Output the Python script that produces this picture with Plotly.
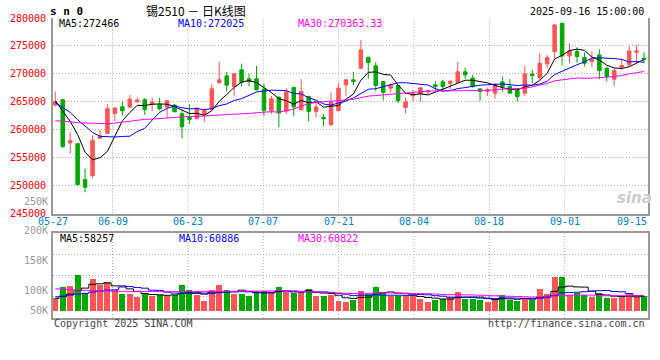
import plotly.graph_objects as go

# ---------------- data ----------------
DATES = ["05-27", "05-28", "05-29", "05-30",
         "06-03", "06-04", "06-05", "06-06", "06-09", "06-10", "06-11", "06-12", "06-13",
         "06-16", "06-17", "06-18", "06-19", "06-20", "06-23", "06-24", "06-25", "06-26",
         "06-27", "06-30",
         "07-01", "07-02", "07-03", "07-04", "07-07", "07-08", "07-09", "07-10", "07-11",
         "07-14", "07-15", "07-16", "07-17", "07-18", "07-21", "07-22", "07-23", "07-24",
         "07-25", "07-28", "07-29", "07-30", "07-31",
         "08-01", "08-04", "08-05", "08-06", "08-07", "08-08", "08-11", "08-12", "08-13",
         "08-14", "08-15", "08-18", "08-19", "08-20", "08-21", "08-22", "08-25", "08-26",
         "08-27", "08-28", "08-29",
         "09-01", "09-02", "09-03", "09-04", "09-05", "09-08", "09-09", "09-10", "09-11",
         "09-12", "09-15", "09-16"]

OPEN = [264410, 265360, 257620, 257500, 251070, 251790, 258450, 259350, 262920, 264110,
        264050, 265000, 265360, 264580, 264470, 264050, 264410, 262860, 262260, 262030,
        262680, 263690, 268450, 269640, 267740, 270720, 269110, 269110, 267260, 263390,
        265830, 263330, 267560, 263570, 265950, 263280, 262200, 260890, 263450, 268040,
        268930, 271010, 272980, 271430, 268630, 267440, 267920, 263990, 266070, 266430,
        266790, 268040, 268570, 268330, 268450, 270360, 269230, 267320, 266850, 266550,
        268570, 267740, 266970, 266550, 269940, 269350, 271790, 273990, 279050, 273220,
        273990, 272920, 272200, 273390, 271010, 269050, 271190, 271610, 273870, 272800]
HIGH = [266850, 265540, 259640, 257560, 253040, 258990, 259940, 264530, 264050, 265060,
        266250, 265780, 265660, 265780, 265720, 265240, 264580, 263450, 264580, 264050,
        263870, 268210, 272140, 270360, 270120, 271850, 270000, 271430, 268210, 266070,
        265950, 267440, 267740, 269050, 266070, 264880, 262800, 266670, 268330, 269050,
        270360, 276070, 273050, 272140, 268700, 268330, 268040, 265780, 267140, 267560,
        267140, 268750, 268930, 268930, 272140, 271130, 269820, 267440, 267560, 268330,
        269520, 269050, 267320, 271430, 270720, 273690, 273390, 278930, 279170, 275480,
        274760, 273870, 273990, 274410, 271310, 271010, 272800, 275000, 275180, 273870]
LOW = [264170, 256790, 255720, 249940, 248810, 251370, 258340, 259230, 261490, 262500,
       263870, 264820, 262680, 263280, 263450, 262090, 263100, 258450, 261010, 261790,
       261370, 263570, 268160, 266850, 266070, 267740, 267740, 267030, 262500, 262800,
       260420, 262860, 262380, 263450, 261490, 262200, 260600, 260720, 263280, 265950,
       267920, 270900, 269110, 266850, 265240, 266670, 264760, 262920, 265060, 265060,
       266250, 266850, 266850, 267140, 268330, 269050, 267500, 265180, 266070, 265480,
       266850, 266430, 265060, 266070, 268330, 268930, 271010, 272800, 271490, 271910,
       272020, 271310, 271310, 269050, 268630, 267860, 270720, 271310, 271910, 271910]
CLOSE = [265000, 256970, 258040, 250180, 249700, 258100, 258930, 263750, 263870, 263390,
         265480, 265300, 263630, 264940, 263750, 265180, 263220, 260540, 261850, 263870,
         263450, 267320, 268930, 267980, 270000, 268450, 268630, 267140, 263450, 265540,
         262980, 266790, 264050, 266850, 263280, 264050, 261970, 264940, 267440, 268930,
         268630, 274290, 272020, 267920, 266670, 268040, 265180, 265000, 266430, 267500,
         266970, 267740, 267740, 268630, 270360, 269820, 267740, 266850, 267140, 268160,
         267740, 266550, 265950, 270000, 269700, 271910, 272920, 278750, 273220, 274110,
         273100, 271910, 272620, 270600, 269520, 270600, 271490, 274110, 274110, 272620]
VOLUME = [50000, 93000, 97000, 141000, 69000, 128000, 101000, 116000, 81000, 68000,
          68000, 53000, 72000, 60000, 63000, 57000, 62000, 104000, 81000, 62000,
          40000, 84000, 104000, 84000, 68000, 68000, 57000, 80000, 80000, 70000,
          93000, 74000, 71000, 76000, 87000, 57000, 60000, 63000, 40000, 36000,
          44000, 80000, 68000, 96000, 71000, 57000, 57000, 64000, 57000, 47000,
          36000, 44000, 47000, 55000, 76000, 47000, 47000, 44000, 36000, 46000,
          64000, 44000, 37000, 48000, 44000, 88000, 68000, 136000, 136000, 62000,
          72000, 64000, 56000, 71000, 49000, 49000, 56000, 66000, 56000, 60000]

# moving-average values before enough in-window history exists
MA5_EARLY = [265180, 263280, 261490, 259130]
MA10_EARLY = [264880, 264050, 263100, 261790, 260600, 259525, 258810, 258690, 258690]
MA30_EARLY = [261610, 261550, 261430, 261250, 261190, 261130, 261070, 261070, 261190,
              261370, 261610, 261790, 261850, 261910, 262030, 262150, 262200, 262320,
              262380, 262380, 262440, 262500, 262560, 262620, 262740, 262800, 262920,
              263040, 263160]
VMA5_EARLY = [49000, 56000, 66000, 80000]
VMA10_EARLY = [55000, 58000, 62000, 66000, 69000, 74000, 78000, 82000, 83000]
VMA30_EARLY = [87000, 86000, 84000, 82000, 81000, 80000, 79000, 78000, 77000, 77000,
               76000, 76000, 76000, 76000, 76000, 76000, 76000, 76000, 76000, 76000,
               77000, 77000, 77000, 77000, 77000, 78000, 78000, 78000, 78000]

PRICE_TICKS = [245000, 250000, 255000, 260000, 265000, 270000, 275000, 280000]
VOL_LABELS = ["250K", "200K", "150K", "100K", "50K"]
DATE_LABELS = ["05-27", "06-09", "06-23", "07-07", "07-21", "08-04", "08-18", "09-01", "09-15"]
PRICE_MA_TEXT = ["MA5:272466", "MA10:272025", "MA30:270363.33"]
VOL_MA_TEXT = ["MA5:58257", "MA10:60886", "MA30:60822"]
TITLE_CODE = "s n 0"
TITLE = "锡2510 － 日K线图"
TIMESTAMP = "2025-09-16 15:00:00"
COPYRIGHT = "Copyright 2025 SINA.COM"
URL = "http://finance.sina.com.cn"


def moving_average(vals, n, early):
    out = list(early)
    for i in range(n - 1, len(vals)):
        out.append(sum(vals[i - n + 1:i + 1]) / n)
    return out


MA5 = moving_average(CLOSE, 5, MA5_EARLY)
MA10 = moving_average(CLOSE, 10, MA10_EARLY)
MA30 = moving_average(CLOSE, 30, MA30_EARLY)
VMA5 = moving_average(VOLUME, 5, VMA5_EARLY)
VMA10 = moving_average(VOLUME, 10, VMA10_EARLY)
VMA30 = moving_average(VOLUME, 30, VMA30_EARLY)

# ---------------- styling / layout geometry ----------------
W, H = 660, 360
PL, PR, PT, PB = 50, 650, 18, 318          # plot area in pixels
PRICE_BOTTOM = 213.5
VOL_TOP = 233.3
UP = "#FF5555"
DOWN = "#00A800"
FRAME = "#999999"
GRID = "#a8a8a8"
MONO = "DejaVu Sans Mono"
GRID_PX = [110, 186, 262, 338, 414, 490, 566]
DATE_LABEL_PX = [50, 110, 186, 262, 338, 414, 490, 566, 634]


def px(x):
    return (x - PL) / (PR - PL)


def py(y):
    return (PB - y) / (PB - PT)


fig = go.Figure()

fig.add_trace(go.Candlestick(
    x=DATES, open=OPEN, high=HIGH, low=LOW, close=CLOSE,
    increasing=dict(line=dict(color=UP, width=1), fillcolor=UP),
    decreasing=dict(line=dict(color=DOWN, width=1), fillcolor=DOWN),
    whiskerwidth=0, xaxis="x", yaxis="y", showlegend=False, hoverinfo="skip"))

for series, col in [(MA5, "#000000"), (MA10, "#0000FF"), (MA30, "#FF00FF")]:
    fig.add_trace(go.Scatter(x=DATES, y=series, mode="lines", xaxis="x", yaxis="y",
                             line=dict(color=col, width=1), showlegend=False,
                             hoverinfo="skip"))

vol_colors = [UP if c > o else DOWN for o, c in zip(OPEN, CLOSE)]
fig.add_trace(go.Bar(x=DATES, y=VOLUME, marker=dict(color=vol_colors, line=dict(width=0)),
                     width=0.8, xaxis="x2", yaxis="y2", showlegend=False, hoverinfo="skip"))

for series, col in [(VMA5, "#000000"), (VMA10, "#0000FF"), (VMA30, "#FF00FF")]:
    fig.add_trace(go.Scatter(x=DATES, y=series, mode="lines", xaxis="x2", yaxis="y2",
                             line=dict(color=col, width=1, shape="hvh"), showlegend=False,
                             hoverinfo="skip"))

xrange = [-0.306, 79.53]
price_dom = [py(PRICE_BOTTOM), 1]
vol_dom = [0, py(VOL_TOP)]

shapes = []
for g in GRID_PX:
    for y0, y1 in (price_dom, vol_dom):
        shapes.append(dict(type="line", xref="paper", yref="paper", x0=px(g), x1=px(g),
                           y0=y0, y1=y1, layer="below",
                           line=dict(color=GRID, width=1, dash="1px,2px")))

ann = []
# header
ann.append(dict(text="<b>" + TITLE_CODE + "</b>", x=px(64), y=py(11.5), xanchor="center",
                yanchor="middle", font=dict(family=MONO, size=11, color="#000")))
ann.append(dict(text=TITLE, x=px(194.5), y=py(10.5), xanchor="center", yanchor="middle",
                font=dict(family="Noto Sans CJK SC", size=12, color="#000")))
ann.append(dict(text=TIMESTAMP, x=px(648), y=py(12), xanchor="right", yanchor="middle",
                font=dict(family=MONO, size=10, color="#000")))
# MA legends
for txt, xpos, col in zip(PRICE_MA_TEXT, [54, 174, 295], ["#000000", "#0000FF", "#FF00FF"]):
    ann.append(dict(text=txt, x=px(xpos), y=py(23.5), xanchor="left", yanchor="middle",
                    font=dict(family=MONO, size=10, color=col)))
for txt, xpos, col in zip(VOL_MA_TEXT, [55, 175, 295], ["#000000", "#0000FF", "#FF00FF"]):
    ann.append(dict(text=txt, x=px(xpos), y=py(238.5), xanchor="left", yanchor="middle",
                    font=dict(family=MONO, size=10, color=col)))
# volume scale labels
for txt, ypos in zip(VOL_LABELS, [201, 230.5, 260.5, 290, 310]):
    ann.append(dict(text=txt, x=px(46.5), y=py(ypos), xanchor="right", yanchor="middle",
                    font=dict(family=MONO, size=10, color="#999999")))
# date labels
for txt, xpos in zip(DATE_LABELS, DATE_LABEL_PX):
    ann.append(dict(text=txt, x=px(xpos), y=py(221.5), xanchor="center", yanchor="middle",
                    font=dict(family=MONO, size=10, color="#0080CC")))
# footer
ann.append(dict(text=COPYRIGHT, x=px(49), y=py(323.5), xanchor="left", yanchor="middle",
                font=dict(family=MONO, size=10, color="#444444")))
ann.append(dict(text=URL, x=px(649), y=py(323.5), xanchor="right", yanchor="middle",
                font=dict(family=MONO, size=10, color="#444444")))
# watermark
ann.append(dict(text="<b><i>sina</i></b>", x=px(636), y=py(198), xanchor="center",
                yanchor="middle", font=dict(family="DejaVu Sans", size=15, color="#cccccc")))
for a in ann:
    a.update(xref="paper", yref="paper", showarrow=False)

fig.update_layout(
    width=W, height=H, margin=dict(l=PL, r=W - PR, t=PT, b=H - PB),
    paper_bgcolor="white", plot_bgcolor="white", showlegend=False,
    boxgap=0.33, bargap=0,
    xaxis=dict(type="category", range=xrange, domain=[0, 1], anchor="y",
               showticklabels=False, showgrid=False, zeroline=False,
               showline=True, linecolor=FRAME, linewidth=2, mirror=False,
               rangeslider=dict(visible=False), ticks=""),
    xaxis2=dict(type="category", range=xrange, domain=[0, 1], anchor="y2",
                showticklabels=False, showgrid=False, zeroline=False,
                showline=True, linecolor=FRAME, linewidth=2, mirror=True, ticks=""),
    yaxis=dict(domain=price_dom, range=[245000, 280000], anchor="x",
               tickvals=PRICE_TICKS, ticktext=[str(t) for t in PRICE_TICKS],
               tickfont=dict(family=MONO, size=10, color="#FF0000"),
               ticks="", ticklabelstandoff=3,
               showgrid=True, gridcolor=GRID, griddash="1px,2px", gridwidth=1,
               zeroline=False, showline=True, linecolor=FRAME, linewidth=2, mirror=True),
    yaxis2=dict(domain=vol_dom, range=[-30000, 310000], anchor="x2",
                tickvals=[55000, 140000, 225000], showticklabels=False, ticks="",
                showgrid=True, gridcolor=GRID, griddash="1px,2px", gridwidth=1,
                zeroline=False, showline=True, linecolor=FRAME, linewidth=2, mirror=True),
    shapes=shapes, annotations=ann,
)

fig.write_html("out.html", config={"displayModeBar": False, "staticPlot": True},
               post_script="document.body.style.margin='0px';")
